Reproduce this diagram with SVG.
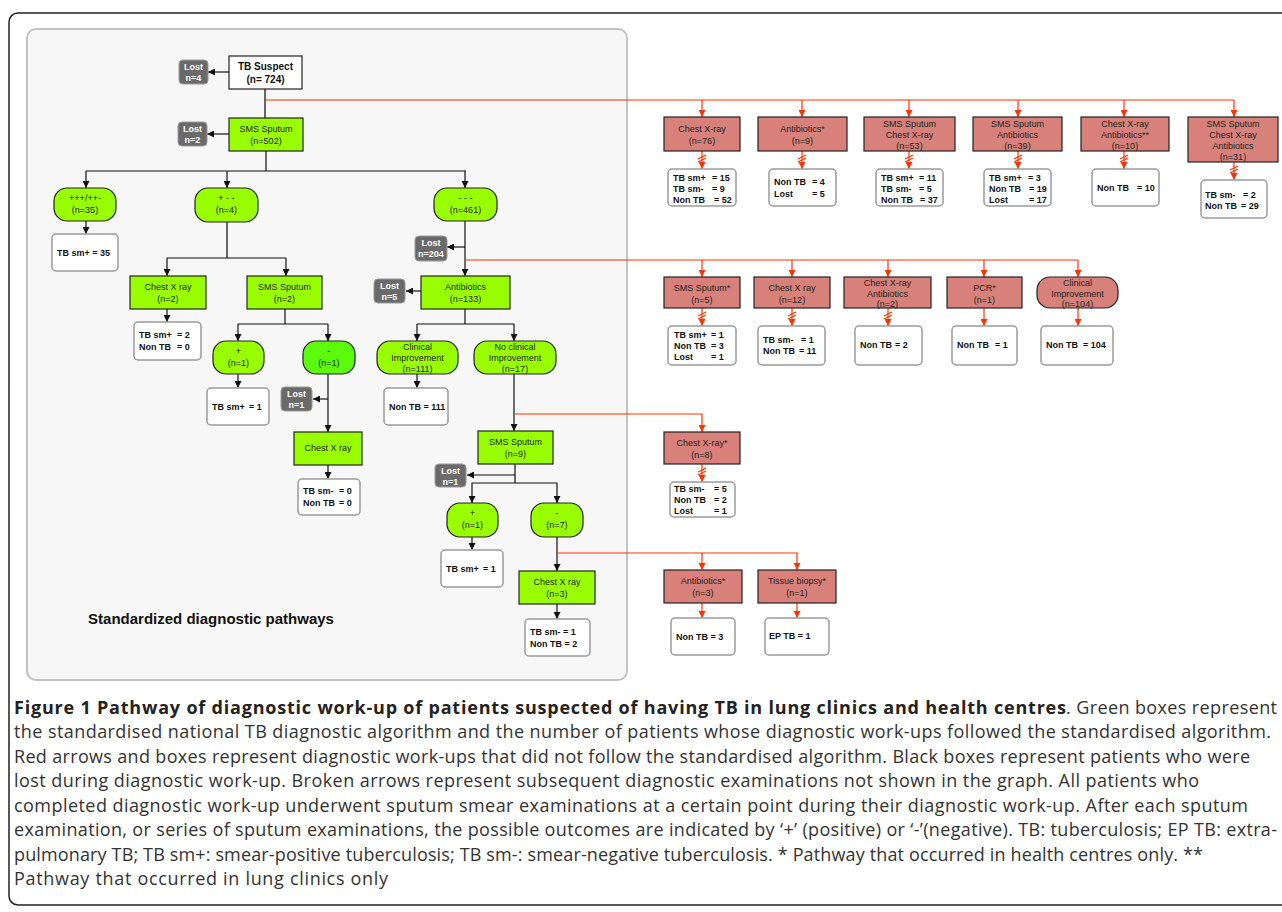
<svg xmlns="http://www.w3.org/2000/svg" xmlns:xlink="http://www.w3.org/1999/xlink" width="1282" height="912" viewBox="0 0 1282 912">
<style>
.g{fill:#99ff00;stroke:#222;stroke-width:1.2}
.g2{fill:#5cfb0c;stroke:#222;stroke-width:1.2}
.r{fill:#d8817a;stroke:#222;stroke-width:1.2}
.w{fill:#fff;stroke:#9a9a9a;stroke-width:1.5}
.l{fill:#6a6a6a;stroke:#9a9a9a;stroke-width:1}
text{font-family:"Liberation Sans",Arial,sans-serif;font-size:9px;fill:#222}
.c{text-anchor:middle}
.b{font-weight:bold;fill:#111}
.lt{font-weight:bold;fill:#fff;text-anchor:middle}
.k{stroke:#111;stroke-width:1.2;fill:none}
.kg{stroke:#666;stroke-width:2;fill:none}
.rd{stroke:#ff3300;stroke-width:1.2;fill:none}
.cap{font-family:"Open Sans","Noto Sans",sans-serif;font-size:18px;fill:#333}
.capb{font-family:"Open Sans","Noto Sans",sans-serif;font-size:18px;font-weight:bold;fill:#222}
</style>
<defs>
<marker id="ak" markerUnits="userSpaceOnUse" markerWidth="7" markerHeight="7" refX="7" refY="3.5" orient="auto"><path d="M0,0 L7,3.5 L0,7 z" fill="#111"/></marker>
<marker id="ar" markerUnits="userSpaceOnUse" markerWidth="7" markerHeight="7" refX="7" refY="3.5" orient="auto"><path d="M0,0 L7,3.5 L0,7 z" fill="#ff3300"/></marker>
<path id="brk" d="M-4,1 L4,-3 M-4,4 L4,0" stroke="#ff3300" stroke-width="1.2" fill="none"/>
</defs>
<rect x="0" y="0" width="1282" height="912" fill="#fff"/>
<rect x="9" y="13" width="1300" height="892" rx="9" fill="none" stroke="#222" stroke-width="1.5"/>
<rect x="27" y="29" width="600" height="651" rx="9" fill="#f7f7f7" stroke="#c2c2c2" stroke-width="2"/>
<text x="211" y="624" class="c b" style="font-size:15px">Standardized diagnostic pathways</text>

<g id="connectors">
<line class="k" x1="229" y1="72" x2="208" y2="72" marker-end="url(#ak)"/>
<line class="kg" x1="265" y1="89" x2="265" y2="118"/>
<line class="k" x1="229" y1="134" x2="207" y2="134" marker-end="url(#ak)"/>
<path class="k" d="M266,151 V171 M86,171 H466"/>
<line class="k" x1="86" y1="171" x2="86" y2="188" marker-end="url(#ak)"/>
<line class="k" x1="227" y1="171" x2="227" y2="188" marker-end="url(#ak)"/>
<line class="k" x1="465" y1="171" x2="465" y2="188" marker-end="url(#ak)"/>
<line class="k" x1="86" y1="221" x2="86" y2="234" marker-end="url(#ak)"/>
<path class="kg" d="M227,222 V258"/>
<path class="k" d="M167,258 H286"/>
<line class="k" x1="167" y1="258" x2="167" y2="276" marker-end="url(#ak)"/>
<line class="k" x1="286" y1="258" x2="286" y2="276" marker-end="url(#ak)"/>
<line class="k" x1="167" y1="309" x2="167" y2="322" marker-end="url(#ak)"/>
<path class="k" d="M285,309 V324 M238,324 H328"/>
<line class="k" x1="238" y1="324" x2="238" y2="341" marker-end="url(#ak)"/>
<line class="k" x1="328" y1="324" x2="328" y2="341" marker-end="url(#ak)"/>
<line class="k" x1="238" y1="374" x2="238" y2="388" marker-end="url(#ak)"/>
<line class="k" x1="328" y1="374" x2="328" y2="432" marker-end="url(#ak)"/>
<line class="k" x1="328" y1="399" x2="313" y2="399" marker-end="url(#ak)"/>
<line class="k" x1="328" y1="465" x2="328" y2="479" marker-end="url(#ak)"/>
<line class="k" x1="465" y1="221" x2="465" y2="276" marker-end="url(#ak)"/>
<line class="k" x1="465" y1="247" x2="447" y2="247" marker-end="url(#ak)"/>
<line class="k" x1="421" y1="291" x2="406" y2="291" marker-end="url(#ak)"/>
<path class="k" d="M465,309 V324 M417,324 H514"/>
<line class="k" x1="417" y1="324" x2="417" y2="341" marker-end="url(#ak)"/>
<line class="k" x1="514" y1="324" x2="514" y2="341" marker-end="url(#ak)"/>
<line class="k" x1="417" y1="374" x2="417" y2="388" marker-end="url(#ak)"/>
<line class="k" x1="514" y1="374" x2="514" y2="431" marker-end="url(#ak)"/>
<path class="k" d="M515,464 V483 M472,483 H557"/>
<line class="k" x1="515" y1="475" x2="467" y2="475" marker-end="url(#ak)"/>
<line class="k" x1="472" y1="483" x2="472" y2="503" marker-end="url(#ak)"/>
<line class="k" x1="557" y1="483" x2="557" y2="503" marker-end="url(#ak)"/>
<line class="k" x1="472" y1="537" x2="472" y2="550" marker-end="url(#ak)"/>
<line class="k" x1="557" y1="537" x2="557" y2="571" marker-end="url(#ak)"/>
<line class="k" x1="557" y1="604" x2="557" y2="619" marker-end="url(#ak)"/>

<path class="rd" d="M266,100 H1234"/>
<line class="rd" x1="702" y1="100" x2="702" y2="117" marker-end="url(#ar)"/>
<line class="rd" x1="802" y1="100" x2="802" y2="117" marker-end="url(#ar)"/>
<line class="rd" x1="909" y1="100" x2="909" y2="117" marker-end="url(#ar)"/>
<line class="rd" x1="1018" y1="100" x2="1018" y2="117" marker-end="url(#ar)"/>
<line class="rd" x1="1124" y1="100" x2="1124" y2="117" marker-end="url(#ar)"/>
<line class="rd" x1="1234" y1="100" x2="1234" y2="117" marker-end="url(#ar)"/>
<line class="rd" x1="702" y1="151" x2="702" y2="169" marker-end="url(#ar)"/><use xlink:href="#brk" x="702" y="158"/>
<line class="rd" x1="802" y1="151" x2="802" y2="169" marker-end="url(#ar)"/><use xlink:href="#brk" x="802" y="158"/>
<line class="rd" x1="909" y1="151" x2="909" y2="169" marker-end="url(#ar)"/><use xlink:href="#brk" x="909" y="158"/>
<line class="rd" x1="1018" y1="151" x2="1018" y2="169" marker-end="url(#ar)"/><use xlink:href="#brk" x="1018" y="158"/>
<line class="rd" x1="1124" y1="151" x2="1124" y2="169" marker-end="url(#ar)"/><use xlink:href="#brk" x="1124" y="158"/>
<line class="rd" x1="1234" y1="162" x2="1234" y2="180" marker-end="url(#ar)"/><use xlink:href="#brk" x="1234" y="169"/>

<path class="rd" d="M466,260 H1078"/>
<line class="rd" x1="702" y1="260" x2="702" y2="277" marker-end="url(#ar)"/>
<line class="rd" x1="792" y1="260" x2="792" y2="277" marker-end="url(#ar)"/>
<line class="rd" x1="888" y1="260" x2="888" y2="277" marker-end="url(#ar)"/>
<line class="rd" x1="984" y1="260" x2="984" y2="277" marker-end="url(#ar)"/>
<line class="rd" x1="1078" y1="260" x2="1078" y2="277" marker-end="url(#ar)"/>
<line class="rd" x1="702" y1="308" x2="702" y2="326" marker-end="url(#ar)"/><use xlink:href="#brk" x="702" y="315"/>
<line class="rd" x1="792" y1="308" x2="792" y2="326" marker-end="url(#ar)"/><use xlink:href="#brk" x="792" y="315"/>
<line class="rd" x1="888" y1="308" x2="888" y2="326" marker-end="url(#ar)"/><use xlink:href="#brk" x="888" y="315"/>
<line class="rd" x1="984" y1="308" x2="984" y2="326" marker-end="url(#ar)"/>
<line class="rd" x1="1078" y1="308" x2="1078" y2="326" marker-end="url(#ar)"/>

<path class="rd" d="M515,414 H702 V432" marker-end="url(#ar)"/>
<line class="rd" x1="702" y1="464" x2="702" y2="482" marker-end="url(#ar)"/><use xlink:href="#brk" x="702" y="471"/>
<path class="rd" d="M557,553 H797 V570" marker-end="url(#ar)"/>
<line class="rd" x1="702" y1="553" x2="702" y2="570" marker-end="url(#ar)"/>
<line class="rd" x1="702" y1="603" x2="702" y2="618" marker-end="url(#ar)"/>
<line class="rd" x1="797" y1="603" x2="797" y2="618" marker-end="url(#ar)"/>
</g>

<g id="tb-suspect"><rect x="229" y="56" width="73" height="33" fill="#fff" stroke="#222" stroke-width="1.2"/><text class="c b" style="font-size:10px" x="265.5" y="70">TB Suspect</text><text class="c b" style="font-size:10px" x="265.5" y="83">(n= 724)</text></g>
<g id="lost-4"><rect class="l" x="179" y="60" width="29" height="24" rx="4"/><text class="lt" x="193.5" y="70">Lost</text><text class="lt" x="193.5" y="81">n=4</text></g>
<g id="sms-502"><rect class="g" x="229" y="118" width="74" height="33"/><text class="c" x="266" y="132">SMS Sputum</text><text class="c" x="266" y="144">(n=502)</text></g>
<g id="lost-2"><rect class="l" x="178" y="122" width="29" height="24" rx="4"/><text class="lt" x="192.5" y="132">Lost</text><text class="lt" x="192.5" y="143">n=2</text></g>

<g id="ppp-35"><rect class="g" x="54" y="188" width="62" height="33" rx="13"/><text class="c" x="85" y="201">+++/++-</text><text class="c" x="85" y="213">(n=35)</text></g>
<g id="res-sm35"><rect class="w" x="52" y="234" width="66" height="37" rx="4"/><text class="b" x="57" y="256">TB sm+ = 35</text></g>

<g id="pmm-4"><rect class="g" x="195" y="188" width="63" height="34" rx="13"/><text class="c" x="226.5" y="201">+ - -</text><text class="c" x="226.5" y="213">(n=4)</text></g>
<g id="cxr-2"><rect class="g" x="130" y="276" width="76" height="33"/><text class="c" x="168" y="290">Chest X ray</text><text class="c" x="168" y="302">(n=2)</text></g>
<g id="res-cxr2"><rect class="w" x="134" y="322" width="67" height="38" rx="4"/><text class="b" x="139" y="338">TB sm+</text><text class="b" x="177" y="338">= 2</text><text class="b" x="139" y="350">Non TB</text><text class="b" x="177" y="350">= 0</text></g>
<g id="sms-2"><rect class="g" x="247" y="276" width="75" height="33"/><text class="c" x="284.5" y="290">SMS Sputum</text><text class="c" x="284.5" y="302">(n=2)</text></g>
<g id="plus-1a"><rect class="g" x="213" y="341" width="51" height="33" rx="13"/><text class="c" x="238.5" y="354">+</text><text class="c" x="238.5" y="366">(n=1)</text></g>
<g id="res-plus1a"><rect class="w" x="207" y="388" width="62" height="37" rx="4"/><text class="b" x="212" y="410">TB sm+</text><text class="b" x="249" y="410">= 1</text></g>
<g id="minus-1"><rect class="g2" x="303" y="341" width="52" height="33" rx="13"/><text class="c" x="329" y="354">-</text><text class="c" x="329" y="366">(n=1)</text></g>
<g id="lost-1a"><rect class="l" x="281" y="387" width="31" height="24" rx="4"/><text class="lt" x="296.5" y="397">Lost</text><text class="lt" x="296.5" y="408">n=1</text></g>
<g id="cxr-a"><rect class="g" x="294" y="432" width="68" height="33"/><text class="c" x="328" y="451">Chest X ray</text></g>
<g id="res-cxra"><rect class="w" x="298" y="479" width="62" height="36" rx="4"/><text class="b" x="303" y="494">TB sm-</text><text class="b" x="339" y="494">= 0</text><text class="b" x="303" y="506">Non TB</text><text class="b" x="339" y="506">= 0</text></g>

<g id="mmm-461"><rect class="g" x="434" y="188" width="63" height="33" rx="13"/><text class="c" x="465.5" y="201">- - -</text><text class="c" x="465.5" y="213">(n=461)</text></g>
<g id="lost-204"><rect class="l" x="415" y="236" width="32" height="25" rx="4"/><text class="lt" x="431" y="246">Lost</text><text class="lt" x="431" y="257">n=204</text></g>
<g id="abx-133"><rect class="g" x="421" y="276" width="89" height="33"/><text class="c" x="465.5" y="290">Antibiotics</text><text class="c" x="465.5" y="302">(n=133)</text></g>
<g id="lost-5"><rect class="l" x="374" y="279" width="31" height="24" rx="4"/><text class="lt" x="389.5" y="289">Lost</text><text class="lt" x="389.5" y="300">n=5</text></g>
<g id="ci-111"><rect class="g" x="377" y="341" width="81" height="33" rx="13"/><text class="c" x="417.5" y="350">Clinical</text><text class="c" x="417.5" y="361">Improvement</text><text class="c" x="417.5" y="372">(n=111)</text></g>
<g id="res-ci111"><rect class="w" x="384" y="388" width="64" height="37" rx="4"/><text class="b" x="389" y="410">Non TB = 111</text></g>
<g id="nci-17"><rect class="g" x="474" y="341" width="82" height="33" rx="13"/><text class="c" x="515" y="350">No clinical</text><text class="c" x="515" y="361">Improvement</text><text class="c" x="515" y="372">(n=17)</text></g>
<g id="sms-9"><rect class="g" x="478" y="431" width="75" height="33"/><text class="c" x="515.5" y="445">SMS Sputum</text><text class="c" x="515.5" y="457">(n=9)</text></g>
<g id="lost-1b"><rect class="l" x="435" y="464" width="31" height="23" rx="4"/><text class="lt" x="450.5" y="474">Lost</text><text class="lt" x="450.5" y="485">n=1</text></g>
<g id="plus-1b"><rect class="g" x="447" y="503" width="51" height="34" rx="13"/><text class="c" x="472.5" y="516">+</text><text class="c" x="472.5" y="528">(n=1)</text></g>
<g id="res-plus1b"><rect class="w" x="441" y="550" width="62" height="37" rx="4"/><text class="b" x="446" y="572">TB sm+</text><text class="b" x="483" y="572">= 1</text></g>
<g id="minus-7"><rect class="g" x="531" y="503" width="52" height="34" rx="13"/><text class="c" x="557" y="516">-</text><text class="c" x="557" y="528">(n=7)</text></g>
<g id="cxr-3"><rect class="g" x="519" y="571" width="76" height="33"/><text class="c" x="557" y="585">Chest X ray</text><text class="c" x="557" y="597">(n=3)</text></g>
<g id="res-cxr3"><rect class="w" x="525" y="619" width="65" height="37" rx="4"/><text class="b" x="530" y="635">TB sm- = 1</text><text class="b" x="530" y="647">Non TB = 2</text></g>

<g id="r-cxr76"><rect class="r" x="664" y="117" width="76" height="34"/><text class="c" x="702" y="132">Chest X-ray</text><text class="c" x="702" y="144">(n=76)</text></g>
<g id="res-cxr76"><rect class="w" x="668" y="169" width="68" height="37" rx="4"/><text class="b" x="673" y="181">TB sm+</text><text class="b" x="712" y="181">= 15</text><text class="b" x="673" y="192">TB sm-</text><text class="b" x="712" y="192">= 9</text><text class="b" x="673" y="203">Non TB</text><text class="b" x="714" y="203">= 52</text></g>
<g id="r-abx9"><rect class="r" x="758" y="117" width="89" height="34"/><text class="c" x="802.5" y="132">Antibiotics*</text><text class="c" x="802.5" y="144">(n=9)</text></g>
<g id="res-abx9"><rect class="w" x="769" y="169" width="67" height="37" rx="4"/><text class="b" x="774" y="185">Non TB</text><text class="b" x="812" y="185">= 4</text><text class="b" x="774" y="197">Lost</text><text class="b" x="812" y="197">= 5</text></g>
<g id="r-sc53"><rect class="r" x="864" y="117" width="91" height="34"/><text class="c" x="909.5" y="127">SMS Sputum</text><text class="c" x="909.5" y="138">Chest X-ray</text><text class="c" x="909.5" y="149">(n=53)</text></g>
<g id="res-sc53"><rect class="w" x="876" y="169" width="67" height="37" rx="4"/><text class="b" x="881" y="181">TB sm+</text><text class="b" x="919" y="181">= 11</text><text class="b" x="881" y="192">TB sm-</text><text class="b" x="919" y="192">= 5</text><text class="b" x="881" y="203">Non TB</text><text class="b" x="920" y="203">= 37</text></g>
<g id="r-sa39"><rect class="r" x="973" y="117" width="89" height="34"/><text class="c" x="1017.5" y="127">SMS Sputum</text><text class="c" x="1017.5" y="138">Antibiotics</text><text class="c" x="1017.5" y="149">(n=39)</text></g>
<g id="res-sa39"><rect class="w" x="984" y="169" width="67" height="37" rx="4"/><text class="b" x="989" y="181">TB sm+</text><text class="b" x="1028" y="181">= 3</text><text class="b" x="989" y="192">Non TB</text><text class="b" x="1029" y="192">= 19</text><text class="b" x="989" y="203">Lost</text><text class="b" x="1029" y="203">= 17</text></g>
<g id="r-ca10"><rect class="r" x="1081" y="117" width="88" height="34"/><text class="c" x="1125" y="127">Chest X-ray</text><text class="c" x="1125" y="138">Antibiotics**</text><text class="c" x="1125" y="149">(n=10)</text></g>
<g id="res-ca10"><rect class="w" x="1092" y="169" width="67" height="37" rx="4"/><text class="b" x="1097" y="191">Non TB</text><text class="b" x="1137" y="191">= 10</text></g>
<g id="r-sca31"><rect class="r" x="1188" y="117" width="90" height="45"/><text class="c" x="1233" y="127">SMS Sputum</text><text class="c" x="1233" y="138">Chest X-ray</text><text class="c" x="1233" y="149">Antibiotics</text><text class="c" x="1233" y="160">(n=31)</text></g>
<g id="res-sca31"><rect class="w" x="1201" y="180" width="66" height="38" rx="4"/><text class="b" x="1205" y="198">TB sm-</text><text class="b" x="1243" y="198">= 2</text><text class="b" x="1205" y="209">Non TB</text><text class="b" x="1241" y="209">= 29</text></g>

<g id="r-sms5"><rect class="r" x="664" y="277" width="76" height="31"/><text class="c" x="702" y="291">SMS Sputum*</text><text class="c" x="702" y="303">(n=5)</text></g>
<g id="res-sms5"><rect class="w" x="668" y="326" width="68" height="39" rx="4"/><text class="b" x="674" y="338">TB sm+</text><text class="b" x="711" y="338">= 1</text><text class="b" x="674" y="349">Non TB</text><text class="b" x="711" y="349">= 3</text><text class="b" x="674" y="360">Lost</text><text class="b" x="711" y="360">= 1</text></g>
<g id="r-cxr12"><rect class="r" x="754" y="277" width="76" height="31"/><text class="c" x="792" y="291">Chest X ray</text><text class="c" x="792" y="303">(n=12)</text></g>
<g id="res-cxr12"><rect class="w" x="758" y="326" width="67" height="39" rx="4"/><text class="b" x="763" y="343">TB sm-</text><text class="b" x="801" y="343">= 1</text><text class="b" x="763" y="354">Non TB</text><text class="b" x="799" y="354">= 11</text></g>
<g id="r-ca2"><rect class="r" x="844" y="277" width="87" height="31"/><text class="c" x="887.5" y="286">Chest X-ray</text><text class="c" x="887.5" y="297">Antibiotics</text><text class="c" x="887.5" y="307">(n=2)</text></g>
<g id="res-ca2"><rect class="w" x="855" y="326" width="67" height="39" rx="4"/><text class="b" x="860" y="348">Non TB</text><text class="b" x="895" y="348">= 2</text></g>
<g id="r-pcr1"><rect class="r" x="947" y="277" width="75" height="31"/><text class="c" x="984.5" y="291">PCR*</text><text class="c" x="984.5" y="303">(n=1)</text></g>
<g id="res-pcr1"><rect class="w" x="952" y="326" width="65" height="39" rx="4"/><text class="b" x="957" y="348">Non TB</text><text class="b" x="995" y="348">= 1</text></g>
<g id="r-ci104"><rect class="r" x="1037" y="277" width="81" height="31" rx="13"/><text class="c" x="1077.5" y="286">Clinical</text><text class="c" x="1077.5" y="297">Improvement</text><text class="c" x="1077.5" y="307">(n=104)</text></g>
<g id="res-ci104"><rect class="w" x="1041" y="326" width="72" height="39" rx="4"/><text class="b" x="1046" y="348">Non TB</text><text class="b" x="1083" y="348">= 104</text></g>

<g id="r-cxr8"><rect class="r" x="664" y="432" width="76" height="32"/><text class="c" x="702" y="446">Chest X-ray*</text><text class="c" x="702" y="458">(n=8)</text></g>
<g id="res-cxr8"><rect class="w" x="670" y="482" width="65" height="35" rx="4"/><text class="b" x="674" y="492">TB sm-</text><text class="b" x="714" y="492">= 5</text><text class="b" x="674" y="503">Non TB</text><text class="b" x="714" y="503">= 2</text><text class="b" x="674" y="514">Lost</text><text class="b" x="714" y="514">= 1</text></g>
<g id="r-abx3"><rect class="r" x="664" y="570" width="78" height="33"/><text class="c" x="703" y="584">Antibiotics*</text><text class="c" x="703" y="596">(n=3)</text></g>
<g id="res-abx3"><rect class="w" x="671" y="618" width="64" height="37" rx="4"/><text class="b" x="676" y="640">Non TB = 3</text></g>
<g id="r-tb1"><rect class="r" x="758" y="570" width="78" height="33"/><text class="c" x="797" y="584">Tissue biopsy*</text><text class="c" x="797" y="596">(n=1)</text></g>
<g id="res-tb1"><rect class="w" x="765" y="618" width="64" height="37" rx="4"/><text class="b" x="769" y="639">EP TB = 1</text></g>

<g id="caption">
<text class="capb" x="14" y="714" textLength="1052" lengthAdjust="spacing">Figure 1 Pathway of diagnostic work-up of patients suspected of having TB in lung clinics and health centres</text>
<text class="cap" x="1066" y="714" textLength="211" lengthAdjust="spacing">. Green boxes represent</text>
<text class="cap" x="14" y="738" textLength="1257" lengthAdjust="spacing">the standardised national TB diagnostic algorithm and the number of patients whose diagnostic work-ups followed the standardised algorithm.</text>
<text class="cap" x="14" y="763" textLength="1236" lengthAdjust="spacing">Red arrows and boxes represent diagnostic work-ups that did not follow the standardised algorithm. Black boxes represent patients who were</text>
<text class="cap" x="14" y="787" textLength="1185" lengthAdjust="spacing">lost during diagnostic work-up. Broken arrows represent subsequent diagnostic examinations not shown in the graph. All patients who</text>
<text class="cap" x="14" y="812" textLength="1234" lengthAdjust="spacing">completed diagnostic work-up underwent sputum smear examinations at a certain point during their diagnostic work-up. After each sputum</text>
<text class="cap" x="14" y="836" textLength="1263" lengthAdjust="spacing">examination, or series of sputum examinations, the possible outcomes are indicated by ‘+’ (positive) or ‘-’(negative). TB: tuberculosis; EP TB: extra-</text>
<text class="cap" x="14" y="861" textLength="1189" lengthAdjust="spacing">pulmonary TB; TB sm+: smear-positive tuberculosis; TB sm-: smear-negative tuberculosis. * Pathway that occurred in health centres only. **</text>
<text class="cap" x="14" y="885" textLength="374" lengthAdjust="spacing">Pathway that occurred in lung clinics only</text>
</g>
</svg>
